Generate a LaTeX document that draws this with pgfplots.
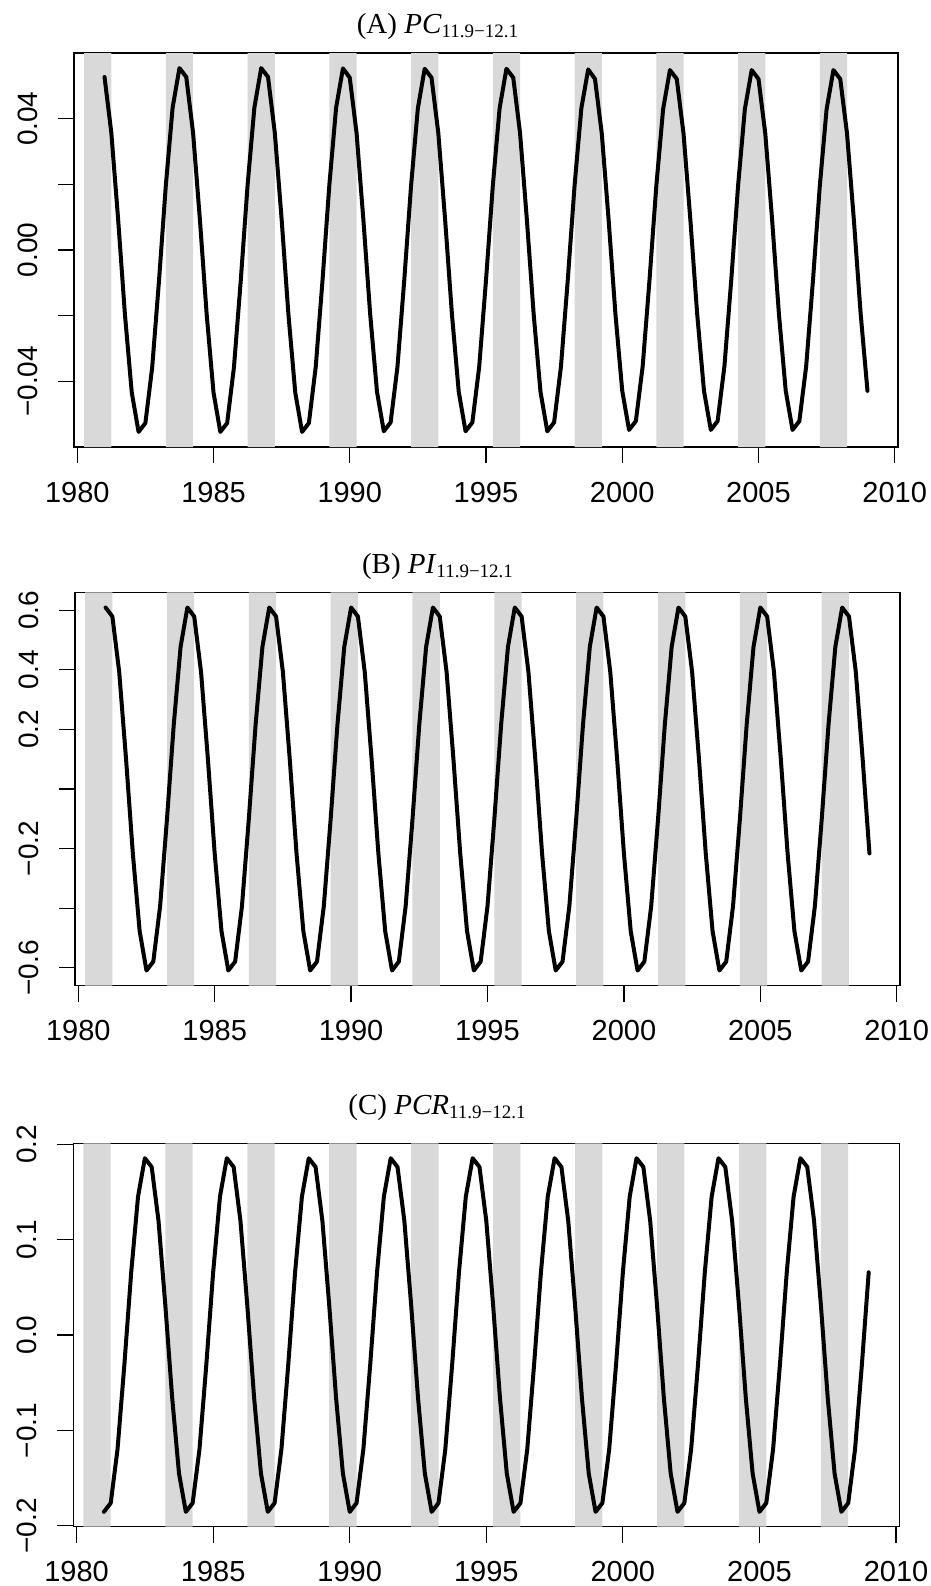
\documentclass[border=0pt]{standalone}
\usepackage{fontspec}
\setmainfont{Liberation Sans}
\newfontfamily\serif{Liberation Serif}
\usepackage{pgfplots}
\usepackage{pgfplotstable}
\pgfplotsset{compat=1.18}

\definecolor{band}{RGB}{217,217,217}

% quarterly series, 1981.00 -- 2009.00
\pgfplotstableread{
t v
1981.00 0.0527
1981.25 0.0357
1981.50 0.0093
1981.75 -0.0197
1982.00 -0.0434
1982.25 -0.0554
1982.50 -0.0527
1982.75 -0.0357
1983.00 -0.0093
1983.25 0.0197
1983.50 0.0434
1983.75 0.0554
1984.00 0.0527
1984.25 0.0357
1984.50 0.0093
1984.75 -0.0197
1985.00 -0.0434
1985.25 -0.0554
1985.50 -0.0527
1985.75 -0.0357
1986.00 -0.0093
1986.25 0.0197
1986.50 0.0434
1986.75 0.0554
1987.00 0.0527
1987.25 0.0357
1987.50 0.0093
1987.75 -0.0197
1988.00 -0.0434
1988.25 -0.0554
1988.50 -0.0527
1988.75 -0.0357
1989.00 -0.0093
1989.25 0.0197
1989.50 0.0434
1989.75 0.0553
1990.00 0.0525
1990.25 0.0356
1990.50 0.0092
1990.75 -0.0196
1991.00 -0.0432
1991.25 -0.0552
1991.50 -0.0525
1991.75 -0.0356
1992.00 -0.0092
1992.25 0.0196
1992.50 0.0432
1992.75 0.0552
1993.00 0.0525
1993.25 0.0356
1993.50 0.0092
1993.75 -0.0196
1994.00 -0.0432
1994.25 -0.0552
1994.50 -0.0525
1994.75 -0.0356
1995.00 -0.0092
1995.25 0.0196
1995.50 0.0432
1995.75 0.0552
1996.00 0.0525
1996.25 0.0356
1996.50 0.0092
1996.75 -0.0196
1997.00 -0.0432
1997.25 -0.0552
1997.50 -0.0525
1997.75 -0.0356
1998.00 -0.0092
1998.25 0.0196
1998.50 0.0432
1998.75 0.0550
1999.00 0.0521
1999.25 0.0354
1999.50 0.0092
1999.75 -0.0195
2000.00 -0.0429
2000.25 -0.0548
2000.50 -0.0521
2000.75 -0.0354
2001.00 -0.0092
2001.25 0.0195
2001.50 0.0429
2001.75 0.0548
2002.00 0.0521
2002.25 0.0354
2002.50 0.0092
2002.75 -0.0195
2003.00 -0.0429
2003.25 -0.0548
2003.50 -0.0521
2003.75 -0.0354
2004.00 -0.0092
2004.25 0.0195
2004.50 0.0429
2004.75 0.0548
2005.00 0.0521
2005.25 0.0354
2005.50 0.0092
2005.75 -0.0195
2006.00 -0.0429
2006.25 -0.0548
2006.50 -0.0521
2006.75 -0.0354
2007.00 -0.0092
2007.25 0.0195
2007.50 0.0429
2007.75 0.0548
2008.00 0.0521
2008.25 0.0354
2008.50 0.0092
2008.75 -0.0195
2009.00 -0.0429
}\pcdata

\pgfplotstableread{
t v
1981.00 0.609
1981.25 0.579
1981.50 0.393
1981.75 0.102
1982.00 -0.216
1982.25 -0.477
1982.50 -0.609
1982.75 -0.579
1983.00 -0.393
1983.25 -0.102
1983.50 0.216
1983.75 0.477
1984.00 0.609
1984.25 0.579
1984.50 0.393
1984.75 0.102
1985.00 -0.216
1985.25 -0.477
1985.50 -0.609
1985.75 -0.579
1986.00 -0.393
1986.25 -0.102
1986.50 0.216
1986.75 0.477
1987.00 0.609
1987.25 0.579
1987.50 0.393
1987.75 0.102
1988.00 -0.216
1988.25 -0.477
1988.50 -0.609
1988.75 -0.579
1989.00 -0.393
1989.25 -0.102
1989.50 0.216
1989.75 0.477
1990.00 0.609
1990.25 0.579
1990.50 0.393
1990.75 0.102
1991.00 -0.216
1991.25 -0.477
1991.50 -0.609
1991.75 -0.579
1992.00 -0.393
1992.25 -0.102
1992.50 0.216
1992.75 0.477
1993.00 0.609
1993.25 0.579
1993.50 0.393
1993.75 0.102
1994.00 -0.216
1994.25 -0.477
1994.50 -0.609
1994.75 -0.579
1995.00 -0.393
1995.25 -0.102
1995.50 0.216
1995.75 0.477
1996.00 0.609
1996.25 0.579
1996.50 0.393
1996.75 0.102
1997.00 -0.216
1997.25 -0.477
1997.50 -0.609
1997.75 -0.579
1998.00 -0.393
1998.25 -0.102
1998.50 0.216
1998.75 0.477
1999.00 0.609
1999.25 0.579
1999.50 0.393
1999.75 0.102
2000.00 -0.216
2000.25 -0.477
2000.50 -0.609
2000.75 -0.579
2001.00 -0.393
2001.25 -0.102
2001.50 0.216
2001.75 0.477
2002.00 0.609
2002.25 0.579
2002.50 0.393
2002.75 0.102
2003.00 -0.216
2003.25 -0.477
2003.50 -0.609
2003.75 -0.579
2004.00 -0.393
2004.25 -0.102
2004.50 0.216
2004.75 0.477
2005.00 0.609
2005.25 0.579
2005.50 0.393
2005.75 0.102
2006.00 -0.216
2006.25 -0.477
2006.50 -0.609
2006.75 -0.579
2007.00 -0.393
2007.25 -0.102
2007.50 0.216
2007.75 0.477
2008.00 0.609
2008.25 0.579
2008.50 0.393
2008.75 0.102
2009.00 -0.216
}\pidata

\pgfplotstableread{
t v
1981.00 -0.1854
1981.25 -0.1762
1981.50 -0.1196
1981.75 -0.0310
1982.00 0.0658
1982.25 0.1451
1982.50 0.1854
1982.75 0.1762
1983.00 0.1196
1983.25 0.0310
1983.50 -0.0658
1983.75 -0.1451
1984.00 -0.1854
1984.25 -0.1762
1984.50 -0.1196
1984.75 -0.0310
1985.00 0.0658
1985.25 0.1451
1985.50 0.1854
1985.75 0.1762
1986.00 0.1196
1986.25 0.0310
1986.50 -0.0658
1986.75 -0.1451
1987.00 -0.1854
1987.25 -0.1762
1987.50 -0.1196
1987.75 -0.0310
1988.00 0.0658
1988.25 0.1451
1988.50 0.1854
1988.75 0.1762
1989.00 0.1196
1989.25 0.0310
1989.50 -0.0658
1989.75 -0.1451
1990.00 -0.1854
1990.25 -0.1762
1990.50 -0.1196
1990.75 -0.0310
1991.00 0.0658
1991.25 0.1451
1991.50 0.1854
1991.75 0.1762
1992.00 0.1196
1992.25 0.0310
1992.50 -0.0658
1992.75 -0.1451
1993.00 -0.1854
1993.25 -0.1762
1993.50 -0.1196
1993.75 -0.0310
1994.00 0.0658
1994.25 0.1451
1994.50 0.1854
1994.75 0.1762
1995.00 0.1196
1995.25 0.0310
1995.50 -0.0658
1995.75 -0.1451
1996.00 -0.1854
1996.25 -0.1762
1996.50 -0.1196
1996.75 -0.0310
1997.00 0.0658
1997.25 0.1451
1997.50 0.1854
1997.75 0.1762
1998.00 0.1196
1998.25 0.0310
1998.50 -0.0658
1998.75 -0.1451
1999.00 -0.1854
1999.25 -0.1762
1999.50 -0.1196
1999.75 -0.0310
2000.00 0.0658
2000.25 0.1451
2000.50 0.1854
2000.75 0.1762
2001.00 0.1196
2001.25 0.0310
2001.50 -0.0658
2001.75 -0.1451
2002.00 -0.1854
2002.25 -0.1762
2002.50 -0.1196
2002.75 -0.0310
2003.00 0.0658
2003.25 0.1451
2003.50 0.1854
2003.75 0.1762
2004.00 0.1196
2004.25 0.0310
2004.50 -0.0658
2004.75 -0.1451
2005.00 -0.1854
2005.25 -0.1762
2005.50 -0.1196
2005.75 -0.0310
2006.00 0.0658
2006.25 0.1451
2006.50 0.1854
2006.75 0.1762
2007.00 0.1196
2007.25 0.0310
2007.50 -0.0658
2007.75 -0.1451
2008.00 -0.1854
2008.25 -0.1762
2008.50 -0.1196
2008.75 -0.0310
2009.00 0.0658
}\pcrdata

% shaded periods, as polygons (y in 0..1 of the axis, scaled below)
\pgfplotstableread{
x y
1980.25 0
1980.25 1
1981.25 1
1981.25 0
nan nan
1983.25 0
1983.25 1
1984.25 1
1984.25 0
nan nan
1986.25 0
1986.25 1
1987.25 1
1987.25 0
nan nan
1989.25 0
1989.25 1
1990.25 1
1990.25 0
nan nan
1992.25 0
1992.25 1
1993.25 1
1993.25 0
nan nan
1995.25 0
1995.25 1
1996.25 1
1996.25 0
nan nan
1998.25 0
1998.25 1
1999.25 1
1999.25 0
nan nan
2001.25 0
2001.25 1
2002.25 1
2002.25 0
nan nan
2004.25 0
2004.25 1
2005.25 1
2005.25 0
nan nan
2007.25 0
2007.25 1
2008.25 1
2008.25 0
}\bands

\pgfplotsset{
  panel/.style={
    scale only axis,
    anchor=north west,
    xmin=1979.88, xmax=2010.12,
    xtick={1980,1985,1990,1995,2000,2005,2010},
    xticklabels={1980,1985,1990,1995,2000,2005,2010},
    scaled y ticks=false,
    tick align=outside,
    xtick pos=left, ytick pos=left,
    major tick length=8pt,
    axis line style={line width=0.6pt},
    tick style={black, line width=0.6pt},
    minor tick num=0,
    unbounded coords=jump,
    xticklabel style={font=\fontsize{14.5}{15}\selectfont, anchor=base, yshift=-19.5pt},
    yticklabel style={font=\fontsize{14}{15}\selectfont, rotate=90, anchor=south},
    yticklabel shift=6.5pt,
  },
  bandfill/.style={fill=band, draw=none, forget plot},
  series/.style={black, line width=2pt, line join=round, line cap=round},
}

\begin{document}
\begin{tikzpicture}
\useasboundingbox (0,0) rectangle (465.5pt,-793pt);

\node[anchor=base] at (218.75pt,-16.5pt) {\fontsize{14.5}{16}\selectfont\serif (A) \textit{PC}\raisebox{-2.15pt}{\fontsize{9.5}{9.5}\selectfont 11.9−12.1}};
\node[anchor=base] at (218.75pt,-286.5pt) {\fontsize{14.5}{16}\selectfont\serif (B) \textit{PI}\raisebox{-2.15pt}{\fontsize{9.5}{9.5}\selectfont 11.9−12.1}};
\node[anchor=base] at (218.5pt,-557pt) {\fontsize{14.5}{16}\selectfont\serif (C) \textit{PCR}\raisebox{-2.15pt}{\fontsize{9.5}{9.5}\selectfont 11.9−12.1}};

\begin{axis}[panel, at={(37pt,-26.5pt)}, width=412pt, height=197pt,
  ymin=-0.06, ymax=0.06,
  ytick={-0.04,-0.02,0,0.02,0.04},
  yticklabels={−0.04,,0.00,,0.04}]
\addplot[bandfill] table[x=x, y expr=\thisrow{y}*0.12-0.06] {\bands};
\addplot[series] table[x=t, y=v] {\pcdata};
\end{axis}

\begin{axis}[panel, at={(37.5pt,-296.15pt)}, width=412.5pt, height=196.7pt,
  ymin=-0.66, ymax=0.66,
  ytick={-0.6,-0.4,-0.2,0,0.2,0.4,0.6},
  yticklabels={−0.6,,−0.2,,0.2,0.4,0.6}]
\addplot[bandfill] table[x=x, y expr=\thisrow{y}*1.32-0.66] {\bands};
\addplot[series] table[x=t, y=v] {\pidata};
\end{axis}

\begin{axis}[panel, at={(36.65pt,-571.65pt)}, width=413pt, height=191.7pt,
  ymin=-0.201, ymax=0.201,
  ytick={-0.2,-0.1,0,0.1,0.2},
  yticklabels={−0.2,−0.1,0.0,0.1,0.2}]
\addplot[bandfill] table[x=x, y expr=\thisrow{y}*0.402-0.201] {\bands};
\addplot[series] table[x=t, y=v] {\pcrdata};
\end{axis}
\end{tikzpicture}
\end{document}
